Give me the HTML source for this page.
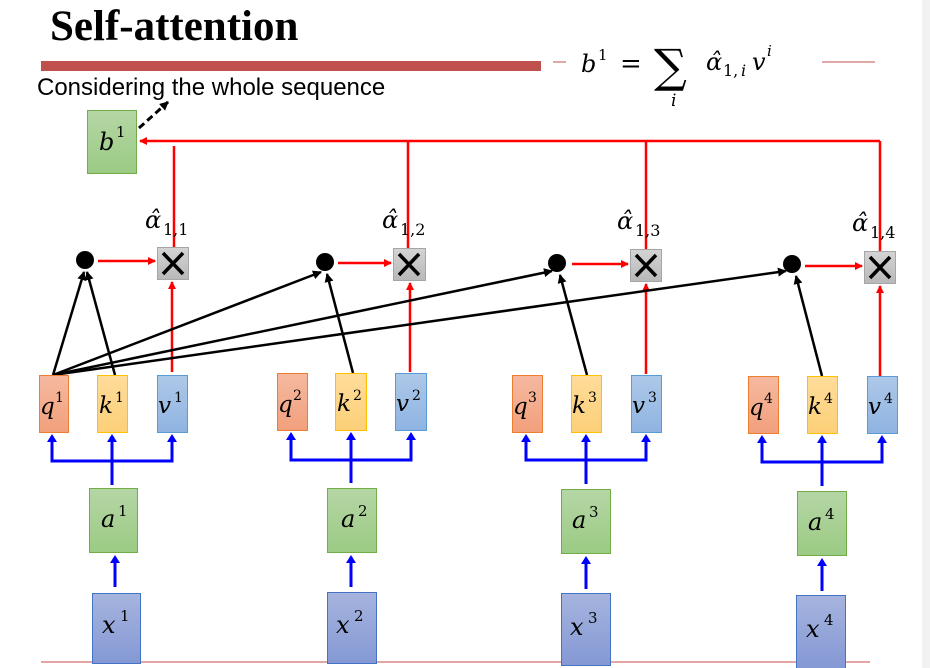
<!DOCTYPE html>
<html><head><meta charset="utf-8"><style>
html,body{margin:0;padding:0;background:#fff;}
svg{display:block;}
.m{font-family:"DejaVu Serif","Liberation Serif",serif;font-style:italic;fill:#000;}
.s{font-family:"DejaVu Serif","Liberation Serif",serif;fill:#000;}
</style></head><body>
<svg width="930" height="668" viewBox="0 0 930 668" xmlns="http://www.w3.org/2000/svg">
<defs>
<linearGradient id="gq" x1="0" y1="0" x2="0" y2="1"><stop offset="0" stop-color="#f5b9a0"/><stop offset="1" stop-color="#f2a07c"/></linearGradient>
<linearGradient id="gk" x1="0" y1="0" x2="0" y2="1"><stop offset="0" stop-color="#fedc9a"/><stop offset="1" stop-color="#fdd078"/></linearGradient>
<linearGradient id="gv" x1="0" y1="0" x2="0" y2="1"><stop offset="0" stop-color="#adc8e8"/><stop offset="1" stop-color="#8fb4e2"/></linearGradient>
<linearGradient id="ga" x1="0" y1="0" x2="0" y2="1"><stop offset="0" stop-color="#b5d6a5"/><stop offset="1" stop-color="#9bcb84"/></linearGradient>
<linearGradient id="gx" x1="0" y1="0" x2="0" y2="1"><stop offset="0" stop-color="#a6b4de"/><stop offset="1" stop-color="#8498d4"/></linearGradient>
<linearGradient id="gm" x1="0" y1="0" x2="0" y2="1"><stop offset="0" stop-color="#d4d4d4"/><stop offset="1" stop-color="#b8b8b8"/></linearGradient>
<marker id="ar" markerWidth="8" markerHeight="8" refX="7" refY="4" orient="auto" markerUnits="userSpaceOnUse"><path d="M0,0 L8,4 L0,8 Z" fill="#f00"/></marker>
<marker id="ab" markerWidth="8" markerHeight="8" refX="7" refY="4" orient="auto" markerUnits="userSpaceOnUse"><path d="M0,0 L8,4 L0,8 Z" fill="#00f"/></marker>
<marker id="ak" markerWidth="9" markerHeight="9" refX="8" refY="4.5" orient="auto" markerUnits="userSpaceOnUse"><path d="M0,0 L9,4.5 L0,9 Z" fill="#000"/></marker>
</defs>
<rect x="922" y="0" width="8" height="668" fill="#f2f2f2"/>
<text x="50" y="40" font-family="Liberation Serif,serif" font-weight="bold" font-size="43">Self-attention</text>
<rect x="41" y="61" width="500" height="10" fill="#c0504d"/>
<line x1="822" y1="62" x2="875" y2="62" stroke="#c0504d" stroke-width="1"/>
<line x1="553" y1="62" x2="566" y2="62" stroke="#c0504d" stroke-width="1"/>
<text x="37" y="95" font-family="Liberation Sans,sans-serif" font-size="24">Considering the whole sequence</text>
<!-- formula -->
<text x="581" y="72" class="m" font-size="24">b</text><text x="598" y="60" class="s" font-size="15">1</text>
<text x="620" y="72" class="s" font-size="26">=</text>
<text x="654" y="82" class="s" font-size="46">∑</text>
<text x="671" y="106" class="m" font-size="17">i</text>
<text x="706" y="70" class="m" font-size="24">α̂</text><text x="723" y="76" class="s" font-size="16">1,</text><text x="741" y="76" class="m" font-size="16">i</text>
<text x="752" y="70" class="m" font-size="24">v</text><text x="767" y="56" class="m" font-size="15">i</text>
<!-- b1 -->
<rect x="87.5" y="110.5" width="49" height="63" fill="url(#ga)" stroke="#70ad47"/>
<text x="99" y="150" class="m" font-size="24">b</text><text x="116" y="137" class="s" font-size="15">1</text>
<line x1="139" y1="128" x2="168" y2="102" stroke="#000" stroke-width="3" stroke-dasharray="7,4" marker-end="url(#ak)"/>
<!-- red collector -->
<line x1="880" y1="141" x2="140" y2="141" stroke="#f00" stroke-width="2.5" marker-end="url(#ar)"/>
<g stroke="#f00" stroke-width="2.5">
<line x1="174" y1="146" x2="174" y2="247"/>
<line x1="408" y1="141" x2="408" y2="248"/>
<line x1="646" y1="141" x2="646" y2="249"/>
<line x1="880" y1="141" x2="880" y2="251"/>
</g>
<!-- alpha labels -->
<g>
<text x="145" y="228" class="m" font-size="24">α̂</text><text x="163" y="235" class="s" font-size="16">1,1</text>
<text x="382" y="228" class="m" font-size="24">α̂</text><text x="400" y="235" class="s" font-size="16">1,2</text>
<text x="617" y="229" class="m" font-size="24">α̂</text><text x="635" y="236" class="s" font-size="16">1,3</text>
<text x="852" y="231" class="m" font-size="24">α̂</text><text x="870" y="238" class="s" font-size="16">1,4</text>
</g>
<!-- multiply boxes & dots -->
<g stroke="#a6a6a6">
<rect x="157.5" y="247.5" width="31" height="32" fill="url(#gm)"/>
<rect x="393.5" y="248.5" width="32" height="32" fill="url(#gm)"/>
<rect x="630.5" y="249.5" width="31" height="32" fill="url(#gm)"/>
<rect x="864.5" y="251.5" width="31" height="32" fill="url(#gm)"/>
</g>
<g stroke="#000" stroke-width="3.5">
<path d="M163,253 L183,274 M183,253 L163,274"/>
<path d="M399,254 L419,275 M419,254 L399,275"/>
<path d="M636,255 L656,276 M656,255 L636,276"/>
<path d="M870,257 L890,278 M890,257 L870,278"/>
</g>
<g fill="#000">
<circle cx="85" cy="260" r="9"/><circle cx="325" cy="262" r="9"/><circle cx="557" cy="263" r="9"/><circle cx="792" cy="264" r="9"/>
</g>
<g stroke="#f00" stroke-width="2.5">
<line x1="98" y1="261" x2="155" y2="261" marker-end="url(#ar)"/>
<line x1="338" y1="263" x2="391" y2="263" marker-end="url(#ar)"/>
<line x1="572" y1="264" x2="628" y2="264" marker-end="url(#ar)"/>
<line x1="805" y1="266" x2="862" y2="266" marker-end="url(#ar)"/>
<line x1="172" y1="372" x2="172" y2="282" marker-end="url(#ar)"/>
<line x1="410" y1="372" x2="410" y2="283" marker-end="url(#ar)"/>
<line x1="646" y1="374" x2="646" y2="284" marker-end="url(#ar)"/>
<line x1="880" y1="376" x2="880" y2="286" marker-end="url(#ar)"/>
</g>
<!-- black lines -->
<g stroke="#000" stroke-width="2.5">
<line x1="53" y1="375" x2="84" y2="272" marker-end="url(#ak)"/>
<line x1="115" y1="375" x2="87" y2="272" marker-end="url(#ak)"/>
<line x1="53" y1="375" x2="321" y2="272" marker-end="url(#ak)"/>
<line x1="53" y1="375" x2="552" y2="271" marker-end="url(#ak)"/>
<line x1="53" y1="375" x2="786" y2="271" marker-end="url(#ak)"/>
<line x1="353" y1="373" x2="327" y2="274" marker-end="url(#ak)"/>
<line x1="587" y1="375" x2="560" y2="275" marker-end="url(#ak)"/>
<line x1="822" y1="376" x2="796" y2="276" marker-end="url(#ak)"/>
</g>
<!-- qkv boxes -->
<g>
<rect x="39.5" y="375.5" width="29" height="57" fill="url(#gq)" stroke="#ed7d31"/>
<rect x="97.5" y="375.5" width="30" height="57" fill="url(#gk)" stroke="#ffc000"/>
<rect x="157.5" y="375.5" width="30" height="57" fill="url(#gv)" stroke="#5b9bd5"/>
<rect x="277.5" y="373.5" width="30" height="57" fill="url(#gq)" stroke="#ed7d31"/>
<rect x="335.5" y="373.5" width="31" height="57" fill="url(#gk)" stroke="#ffc000"/>
<rect x="395.5" y="373.5" width="31" height="57" fill="url(#gv)" stroke="#5b9bd5"/>
<rect x="512.5" y="375.5" width="30" height="57" fill="url(#gq)" stroke="#ed7d31"/>
<rect x="571.5" y="375.5" width="30" height="57" fill="url(#gk)" stroke="#ffc000"/>
<rect x="631.5" y="375.5" width="30" height="57" fill="url(#gv)" stroke="#5b9bd5"/>
<rect x="748.5" y="376.5" width="30" height="57" fill="url(#gq)" stroke="#ed7d31"/>
<rect x="807.5" y="376.5" width="30" height="57" fill="url(#gk)" stroke="#ffc000"/>
<rect x="867.5" y="376.5" width="30" height="57" fill="url(#gv)" stroke="#5b9bd5"/>
</g>
<g font-size="23">
<text x="40" y="414" class="m">q</text><text x="55" y="402" class="s" font-size="14">1</text>
<text x="99" y="413" class="m">k</text><text x="115" y="402" class="s" font-size="14">1</text>
<text x="158" y="413" class="m">v</text><text x="174" y="402" class="s" font-size="14">1</text>
<text x="278" y="412" class="m">q</text><text x="293" y="400" class="s" font-size="14">2</text>
<text x="337" y="411" class="m">k</text><text x="353" y="400" class="s" font-size="14">2</text>
<text x="396" y="411" class="m">v</text><text x="412" y="400" class="s" font-size="14">2</text>
<text x="513" y="414" class="m">q</text><text x="528" y="402" class="s" font-size="14">3</text>
<text x="572" y="413" class="m">k</text><text x="588" y="402" class="s" font-size="14">3</text>
<text x="632" y="413" class="m">v</text><text x="648" y="402" class="s" font-size="14">3</text>
<text x="749" y="415" class="m">q</text><text x="764" y="403" class="s" font-size="14">4</text>
<text x="808" y="414" class="m">k</text><text x="824" y="403" class="s" font-size="14">4</text>
<text x="868" y="414" class="m">v</text><text x="884" y="403" class="s" font-size="14">4</text>
</g>
<!-- blue forks -->
<g stroke="#00f" stroke-width="3" fill="none">
<path d="M52,436 V461 H172 V436"/><line x1="112" y1="485" x2="112" y2="436"/>
<path d="M291,434 V460 H411 V434"/><line x1="351" y1="483" x2="351" y2="434"/>
<path d="M526,436 V460 H646 V436"/><line x1="586" y1="484" x2="586" y2="436"/>
<path d="M762,437 V462 H882 V437"/><line x1="822" y1="486" x2="822" y2="437"/>
<line x1="115" y1="587" x2="115" y2="557"/>
<line x1="351" y1="587" x2="351" y2="557"/>
<line x1="586" y1="589" x2="586" y2="558"/>
<line x1="822" y1="591" x2="822" y2="560"/>
</g>
<g fill="#00f">
<path d="M47,442 L52,434 L57,442Z M107,442 L112,434 L117,442Z M167,442 L172,434 L177,442Z"/>
<path d="M286,440 L291,432 L296,440Z M346,440 L351,432 L356,440Z M406,440 L411,432 L416,440Z"/>
<path d="M521,442 L526,434 L531,442Z M581,442 L586,434 L591,442Z M641,442 L646,434 L651,442Z"/>
<path d="M757,443 L762,435 L767,443Z M817,443 L822,435 L827,443Z M877,443 L882,435 L887,443Z"/>
<path d="M110,563 L115,555 L120,563Z M346,563 L351,555 L356,563Z M581,564 L586,556 L591,564Z M817,566 L822,558 L827,566Z"/>
</g>
<!-- a boxes -->
<g stroke="#70ad47">
<rect x="89.5" y="488.5" width="48" height="64" fill="url(#ga)"/>
<rect x="327.5" y="488.5" width="49" height="64" fill="url(#ga)"/>
<rect x="561.5" y="489.5" width="49" height="64" fill="url(#ga)"/>
<rect x="797.5" y="491.5" width="49" height="64" fill="url(#ga)"/>
</g>
<g font-size="24">
<text x="101" y="527" class="m">a</text><text x="118" y="516" class="s" font-size="15">1</text>
<text x="341" y="527" class="m">a</text><text x="358" y="516" class="s" font-size="15">2</text>
<text x="572" y="528" class="m">a</text><text x="589" y="517" class="s" font-size="15">3</text>
<text x="808" y="530" class="m">a</text><text x="825" y="519" class="s" font-size="15">4</text>
</g>
<!-- x boxes -->
<line x1="41" y1="662" x2="870" y2="662" stroke="#e6a5a5" stroke-width="2"/>
<g stroke="#4472c4">
<rect x="92.5" y="593.5" width="48" height="70" fill="url(#gx)"/>
<rect x="327.5" y="592.5" width="49" height="71" fill="url(#gx)"/>
<rect x="561.5" y="593.5" width="49" height="72" fill="url(#gx)"/>
<rect x="796.5" y="595.5" width="49" height="73" fill="url(#gx)"/>
</g>
<g font-size="24">
<text x="102" y="633" class="m">x</text><text x="120" y="621" class="s" font-size="15">1</text>
<text x="336" y="633" class="m">x</text><text x="354" y="621" class="s" font-size="15">2</text>
<text x="570" y="635" class="m">x</text><text x="588" y="623" class="s" font-size="15">3</text>
<text x="806" y="637" class="m">x</text><text x="824" y="625" class="s" font-size="15">4</text>
</g>
</svg>
</body></html>
